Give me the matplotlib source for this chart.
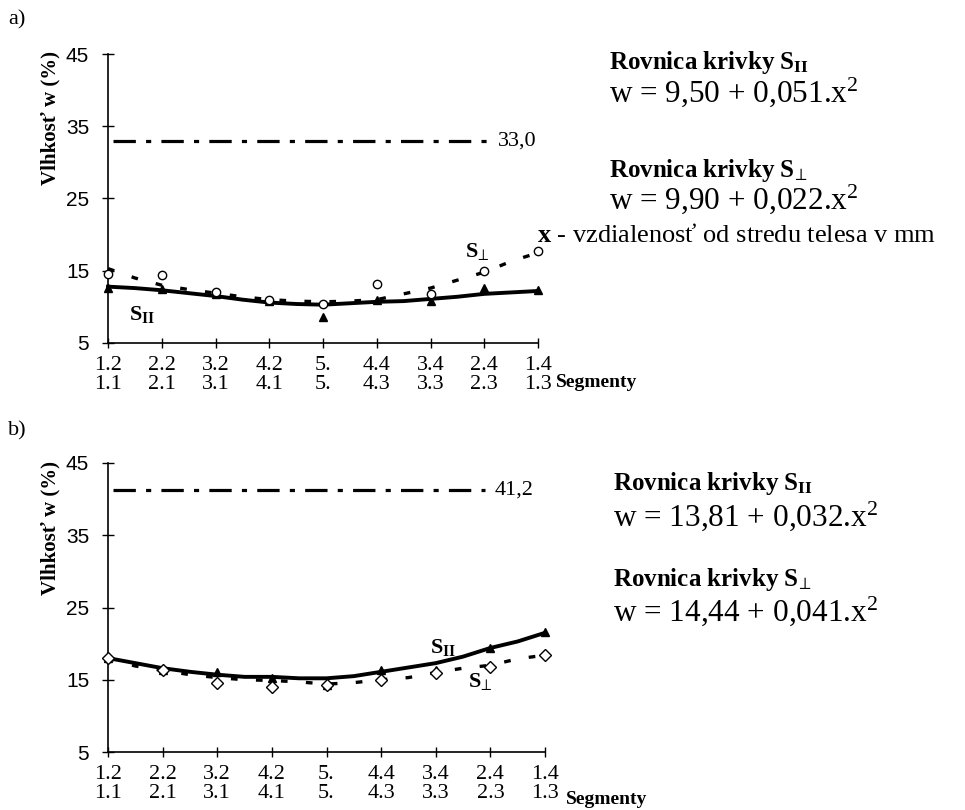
import matplotlib
matplotlib.use("Agg")
import matplotlib.pyplot as plt

plt.rcParams['mathtext.fontset'] = 'custom'
plt.rcParams['mathtext.rm'] = 'Liberation Serif'
plt.rcParams['mathtext.it'] = 'Liberation Serif:italic'
plt.rcParams['mathtext.bf'] = 'Liberation Serif:bold'

SERIF = ['Liberation Serif', 'DejaVu Serif']
SANS = ['Liberation Sans', 'DejaVu Sans']

# ---------------- data ----------------
seg_row1 = ['1.2', '2.2', '3.2', '4.2', '5.', '4.4', '3.4', '2.4', '1.4']
seg_row2 = ['1.1', '2.1', '3.1', '4.1', '5.', '4.3', '3.3', '2.3', '1.3']
seg_pos = [0, 1, 2, 3, 4, 5, 6, 7, 8]
fit_pos = [0, 0.5, 1, 1.5, 2, 2.5, 3, 3.5, 4, 4.5, 5, 5.5, 6, 6.5, 7, 7.5, 8]
yticks = [5, 15, 25, 35, 45]

# chart a)
a_par_meas = [12.6, 12.5, 11.8, 10.8, 8.6, 11.0, 10.8, 12.6, 12.3]
a_perp_meas = [14.5, 14.4, 12.0, 10.9, 10.4, 13.2, 11.8, 15.0, 17.7]
a_par_fit = [12.8, 12.6, 12.3, 11.9, 11.5, 11.0, 10.6, 10.4, 10.3,
             10.5, 10.7, 10.8, 11.1, 11.4, 11.8, 12.0, 12.2]
a_perp_fit = [15.3, 14.0, 13.0, 12.4, 11.9, 11.4, 11.0, 10.8, 10.7,
              10.8, 11.0, 11.8, 12.6, 13.7, 14.8, 16.3, 17.5]
a_limit = 33.0
a_limit_label = '33,0'

# chart b)
b_par_meas = [18.0, 16.3, 16.1, 15.2, 14.3, 16.3, 16.3, 19.4, 21.6]
b_perp_meas = [18.0, 16.3, 14.6, 14.0, 14.3, 15.0, 16.0, 16.8, 18.4]
b_par_fit = [18.0, 17.3, 16.6, 16.1, 15.7, 15.4, 15.4, 15.2, 15.2,
             15.5, 16.1, 16.7, 17.3, 18.2, 19.4, 20.3, 21.5]
b_perp_fit = [18.0, 16.9, 16.3, 15.7, 15.3, 15.0, 14.9, 14.7, 14.4,
              14.6, 15.0, 15.3, 16.0, 16.6, 17.0, 17.9, 18.4]
b_limit = 41.2
b_limit_label = '41,2'

W, H = 965, 810
fig = plt.figure(figsize=(W / 100, H / 100), dpi=100)


def px(x, y):
    return x / W, 1 - y / H


def make_axes(rect, par_meas, perp_meas, par_fit, perp_fit, limit, limit_label,
              line_end, perp_marker):
    ax = fig.add_axes(rect)
    ax.set_xlim(0, 8)
    ax.set_ylim(5, 45)
    for s in ['top', 'right']:
        ax.spines[s].set_visible(False)
    for s in ['left', 'bottom']:
        ax.spines[s].set_linewidth(1.2)
    ax.set_yticks(yticks)
    ax.set_yticklabels([str(v) for v in yticks], family=SANS, fontsize=15)
    ax.set_xticks(seg_pos)
    ax.set_xticklabels([f'{a}\n{b}' for a, b in zip(seg_row1, seg_row2)],
                       family=SERIF, fontsize=16, linespacing=1.0)
    ax.tick_params(axis='y', direction='inout', length=9, width=1.0, pad=9)
    ax.tick_params(axis='x', direction='inout', length=7, width=1.0, pad=6)

    # limit line
    ax.plot([0.1, line_end], [limit, limit], color='black', lw=2.3,
            linestyle=(0, (7.0, 3.2, 1.6, 3.2)), solid_capstyle='butt')
    ax.text(line_end + 0.18, limit, limit_label, family=SERIF, fontsize=16,
            va='center', ha='left')

    # fitted curves
    ax.plot(fit_pos, par_fit, color='black', lw=2.8, clip_on=False, zorder=3)
    ax.plot(fit_pos, perp_fit, color='black', lw=2.4, clip_on=False,
            linestyle=(0, (2.0, 5.5)), zorder=3)

    # measurements
    ax.plot(seg_pos, par_meas, linestyle='none', marker='^', ms=6,
            color='black', clip_on=False, zorder=4)
    ax.plot(seg_pos, perp_meas, linestyle='none', marker=perp_marker, ms=6,
            mfc='white', mec='black', mew=1.0, clip_on=False, zorder=5)
    return ax


axA = make_axes([108 / W, 1 - 343 / H, 430 / W, 289 / H],
                a_par_meas, a_perp_meas, a_par_fit, a_perp_fit,
                a_limit, a_limit_label, 7.07, 'o')
axB = make_axes([108 / W, 1 - 752 / H, 437 / W, 289 / H],
                b_par_meas, b_perp_meas, b_par_fit, b_perp_fit,
                b_limit, b_limit_label, 6.9, 'D')

# y-axis labels
for yc in [118, 528]:
    fig.text(*px(50, yc), 'Vlhkosť w (%)', rotation=90, family=SERIF,
             fontweight='bold', fontsize=15, ha='center', va='center')

# panel letters
fig.text(*px(8, 20), 'a)', family=SERIF, fontsize=16, ha='left', va='center')
fig.text(*px(8, 431), 'b)', family=SERIF, fontsize=16, ha='left', va='center')

# "Segmenty"
fig.text(*px(556, 382), 'Segmenty', family=SERIF, fontweight='bold',
         fontsize=14, ha='left', va='center')
fig.text(*px(566, 799), 'Segmenty', family=SERIF, fontweight='bold',
         fontsize=14, ha='left', va='center')

# curve labels inside charts
SII = r'$\mathbf{S}_{\mathbf{II}}$'
SPERP = r'$\mathbf{S}_{\!\perp}$'
fig.text(*px(129, 315), SII, fontsize=16, ha='left', va='center')
fig.text(*px(465, 252), SPERP, fontsize=16, ha='left', va='center')
fig.text(*px(430, 647), SII, fontsize=16, ha='left', va='center')
fig.text(*px(468, 681), SPERP, fontsize=16, ha='left', va='center')

# equations
HEAD_FS = 18
EQ_FS = 22.5
fig.text(*px(609, 69), r'Rovnica krivky $\mathbf{S}_{\mathbf{II}}$', family=SERIF,
         fontweight='bold', fontsize=HEAD_FS, ha='left', va='baseline')
fig.text(*px(609, 102), r'w = 9,50 + 0,051.x$^{\mathregular{2}}$', family=SERIF,
         fontsize=EQ_FS, ha='left', va='baseline')
fig.text(*px(609, 177), r'Rovnica krivky $\mathbf{S}_{\!\perp}$', family=SERIF,
         fontweight='bold', fontsize=HEAD_FS, ha='left', va='baseline')
fig.text(*px(609, 209), r'w = 9,90 + 0,022.x$^{\mathregular{2}}$', family=SERIF,
         fontsize=EQ_FS, ha='left', va='baseline')
fig.text(*px(537, 242), r'$\mathbf{x}$ - vzdialenosť od stredu telesa v mm',
         family=SERIF, fontsize=19, ha='left', va='baseline')

fig.text(*px(613, 490), r'Rovnica krivky $\mathbf{S}_{\mathbf{II}}$', family=SERIF,
         fontweight='bold', fontsize=HEAD_FS, ha='left', va='baseline')
fig.text(*px(613, 526), r'w = 13,81 + 0,032.x$^{\mathregular{2}}$', family=SERIF,
         fontsize=EQ_FS, ha='left', va='baseline')
fig.text(*px(613, 586), r'Rovnica krivky $\mathbf{S}_{\!\perp}$', family=SERIF,
         fontweight='bold', fontsize=HEAD_FS, ha='left', va='baseline')
fig.text(*px(613, 621), r'w = 14,44 + 0,041.x$^{\mathregular{2}}$', family=SERIF,
         fontsize=EQ_FS, ha='left', va='baseline')

fig.savefig('out.png', dpi=100, facecolor='white')
